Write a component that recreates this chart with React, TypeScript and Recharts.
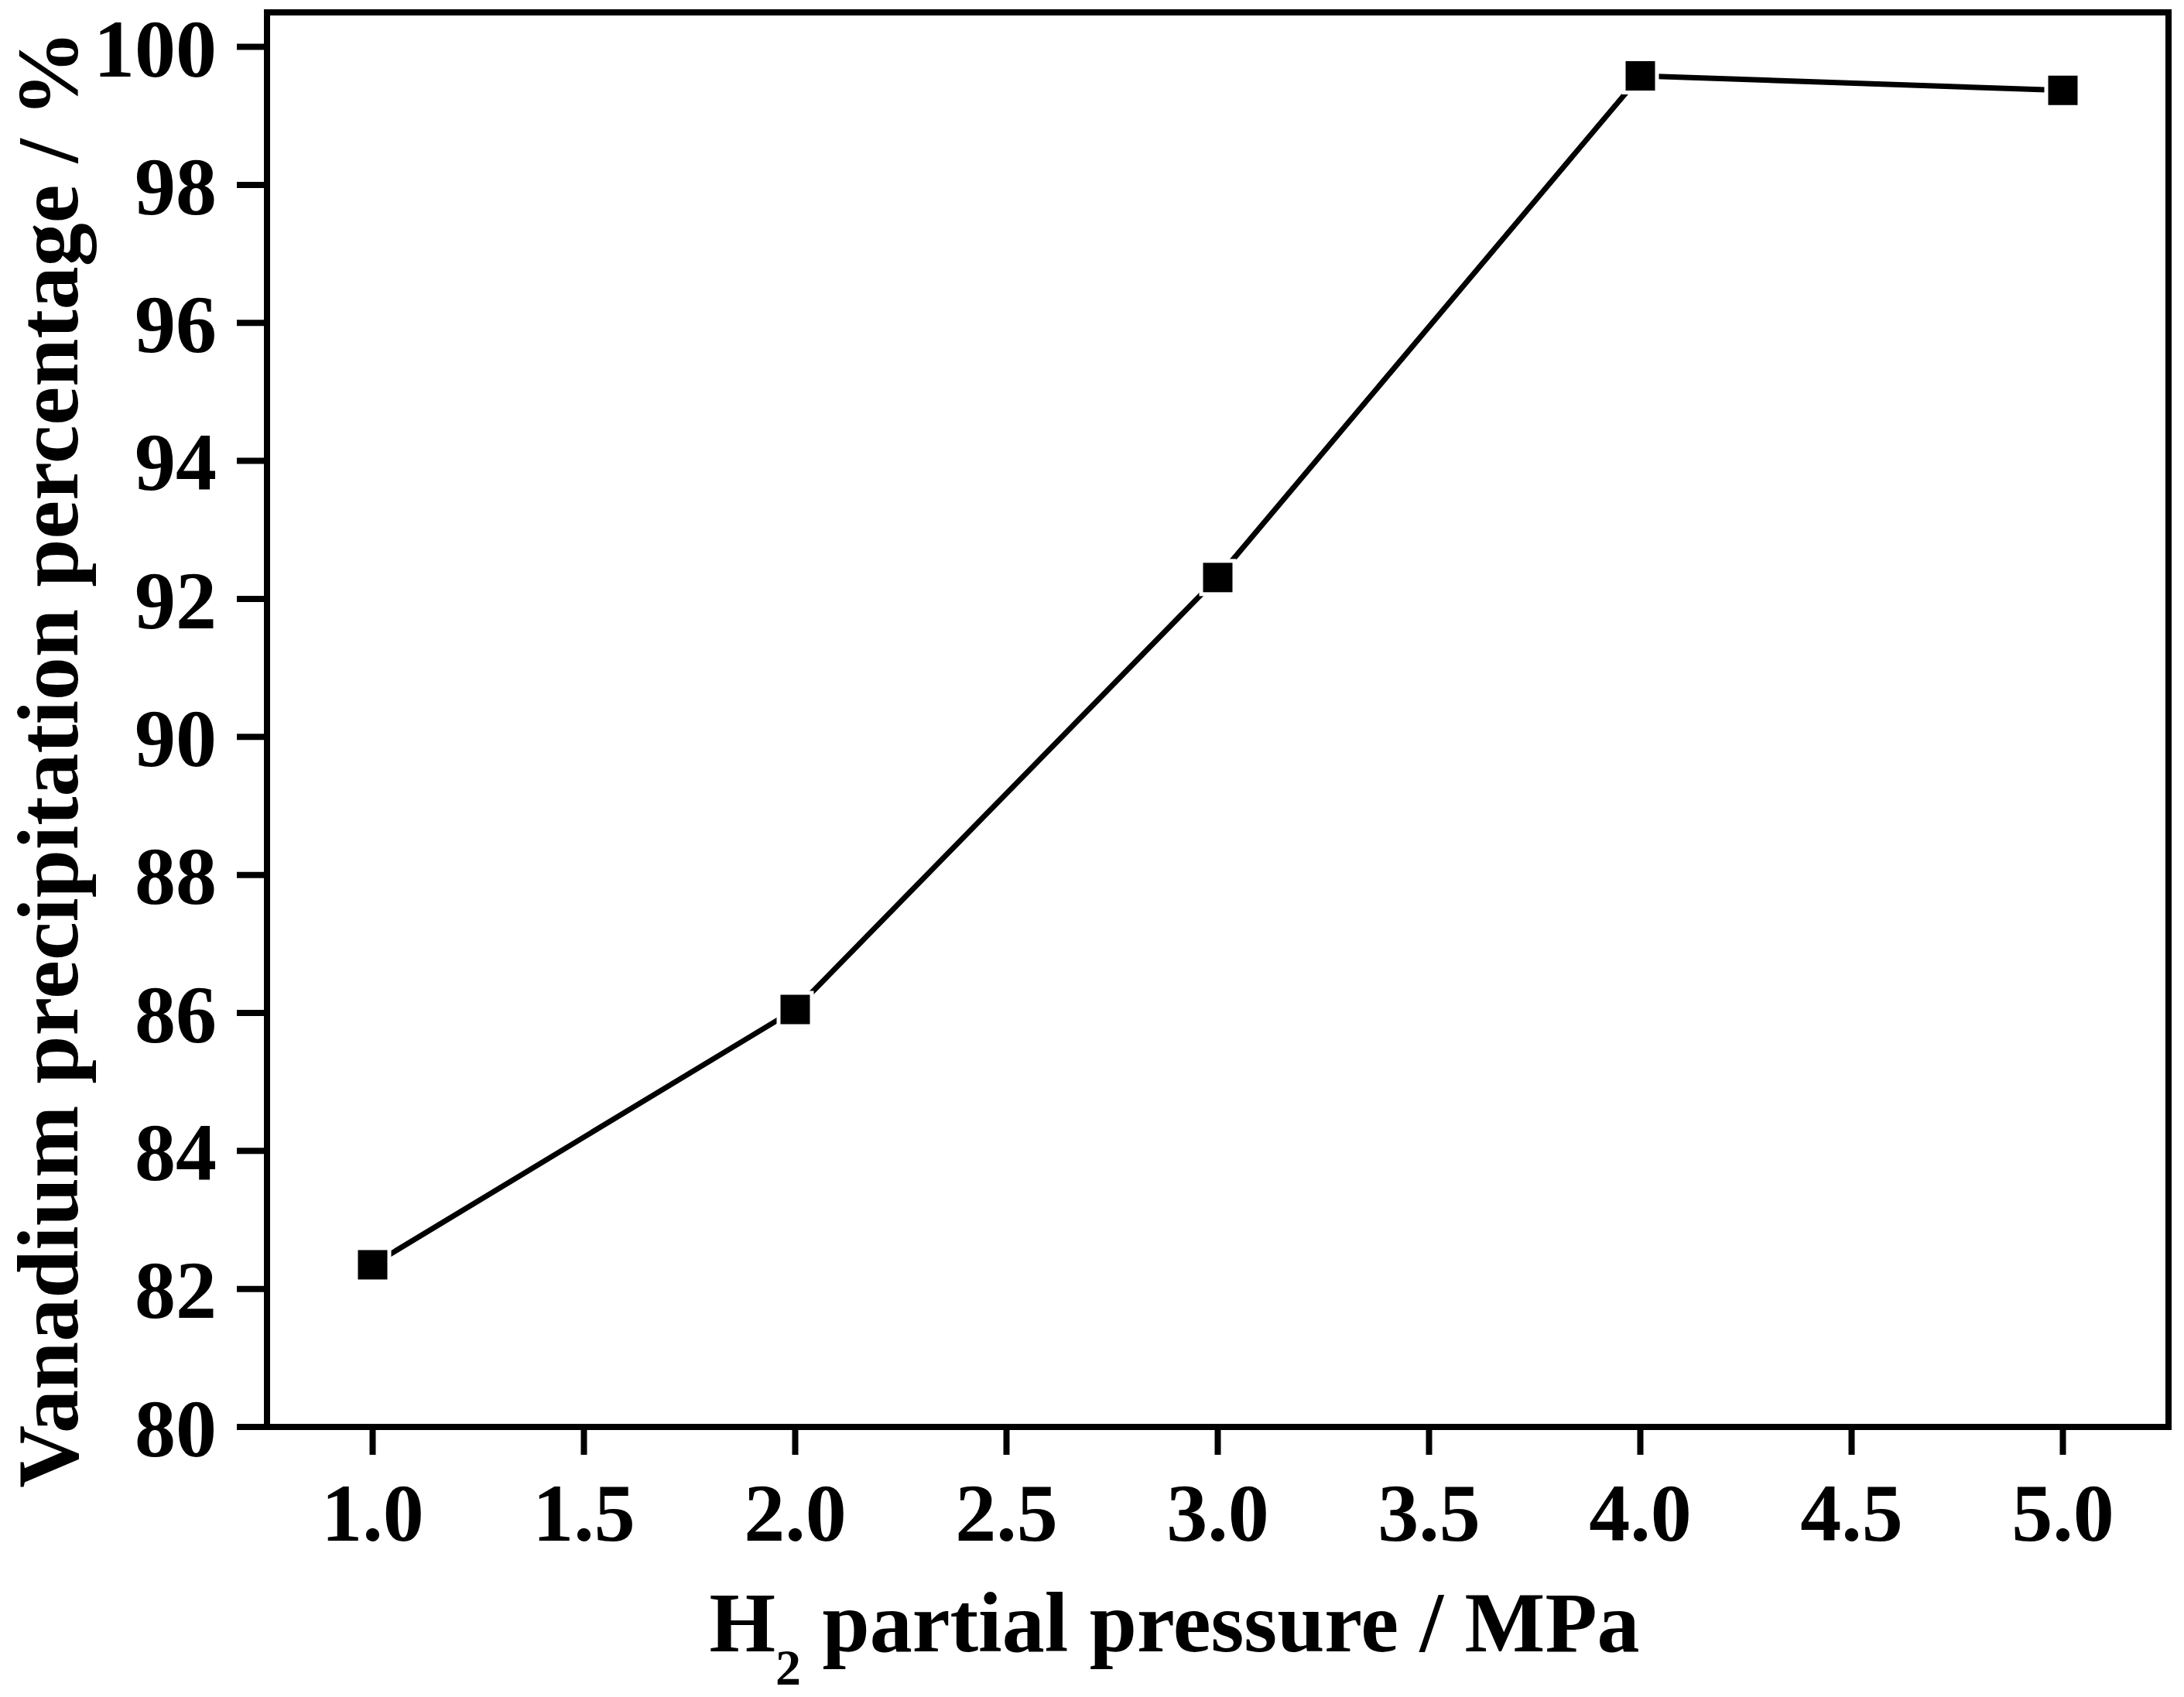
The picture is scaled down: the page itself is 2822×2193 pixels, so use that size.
import { Label, Line, LineChart, ReferenceArea, XAxis, YAxis } from 'recharts';

// H2 partial pressure (MPa) vs vanadium precipitation (%).
const pressures = [1.0, 2.0, 3.0, 4.0, 5.0];
const precipitation = [82.35, 86.05, 92.31, 99.58, 99.37];

const xTicks = [1.0, 1.5, 2.0, 2.5, 3.0, 3.5, 4.0, 4.5, 5.0];
const yTicks = [80, 82, 84, 86, 88, 90, 92, 94, 96, 98, 100];

const X_DOMAIN: [number, number] = [0.75, 5.25];
const Y_DOMAIN: [number, number] = [80, 100.5];

const FONT = '"Liberation Serif", "Times New Roman", serif';
const AXIS = { stroke: '#000', strokeWidth: 8, strokeLinecap: 'square' as const };

const data = pressures.map((p, i) => ({ pressure: p, value: precipitation[i] }));

// Filled square marker with a thin white halo so the line stops short of it.
function SquareDot({ cx, cy }: { cx?: number; cy?: number }) {
  if (cx == null || cy == null) return null;
  const s = 38;
  return (
    <rect
      x={cx - s / 2}
      y={cy - s / 2}
      width={s}
      height={s}
      fill="#000"
      stroke="#fff"
      strokeWidth={10}
      paintOrder="stroke"
    />
  );
}

function XTitle({ viewBox }: any) {
  const cx = viewBox.x + viewBox.width / 2 - 56;
  const y = viewBox.y + 290;
  return (
    <text x={cx} y={y} textAnchor="middle" fontFamily={FONT} fontWeight="bold" fontSize={110} fill="#000">
      <tspan>H</tspan>
      <tspan dy={43} fontSize={66}>2</tspan>
      <tspan dy={-43}> partial pressure / MPa</tspan>
    </text>
  );
}

function YTitle({ viewBox }: any) {
  const x = viewBox.x + 55;
  const y = viewBox.y + viewBox.height / 2 + 51;
  return (
    <text
      x={x}
      y={y}
      transform={`rotate(-90, ${x}, ${y})`}
      textAnchor="middle"
      fontFamily={FONT}
      fontWeight="bold"
      fontSize={112}
      fill="#000"
    >
      Vanadium precipitation percentage / %
    </text>
  );
}

export default function App() {
  return (
    <div style={{ position: 'absolute', left: 0, top: 0, width: 2822, height: 2193, background: '#fff' }}>
      <LineChart width={2822} height={2193} data={data} margin={{ top: 16, right: 20, bottom: 149, left: 45 }}>
        {/* frame around the plot area */}
        <ReferenceArea
          x1={X_DOMAIN[0]}
          x2={X_DOMAIN[1]}
          y1={Y_DOMAIN[0]}
          y2={Y_DOMAIN[1]}
          fill="none"
          fillOpacity={0}
          stroke="#000"
          strokeWidth={8}
          ifOverflow="extendDomain"
        />
        <XAxis
          type="number"
          dataKey="pressure"
          domain={X_DOMAIN}
          ticks={xTicks}
          allowDataOverflow
          tickFormatter={(v: number) => v.toFixed(1)}
          height={200}
          tickSize={36}
          tickMargin={36}
          axisLine={AXIS}
          tickLine={{ stroke: '#000', strokeWidth: 8 }}
          tick={{ fill: '#000', fontFamily: FONT, fontWeight: 'bold', fontSize: 106 }}
        >
          <Label content={XTitle} />
        </XAxis>
        <YAxis
          type="number"
          domain={Y_DOMAIN}
          ticks={yTicks}
          allowDataOverflow
          width={300}
          tickSize={39}
          tickMargin={26}
          axisLine={AXIS}
          tickLine={{ stroke: '#000', strokeWidth: 8 }}
          tick={{ fill: '#000', fontFamily: FONT, fontWeight: 'bold', fontSize: 106 }}
        >
          <Label content={YTitle} />
        </YAxis>
        <Line
          type="linear"
          dataKey="value"
          stroke="#000"
          strokeWidth={7}
          dot={<SquareDot />}
          activeDot={false}
          isAnimationActive={false}
        />
      </LineChart>
    </div>
  );
}
